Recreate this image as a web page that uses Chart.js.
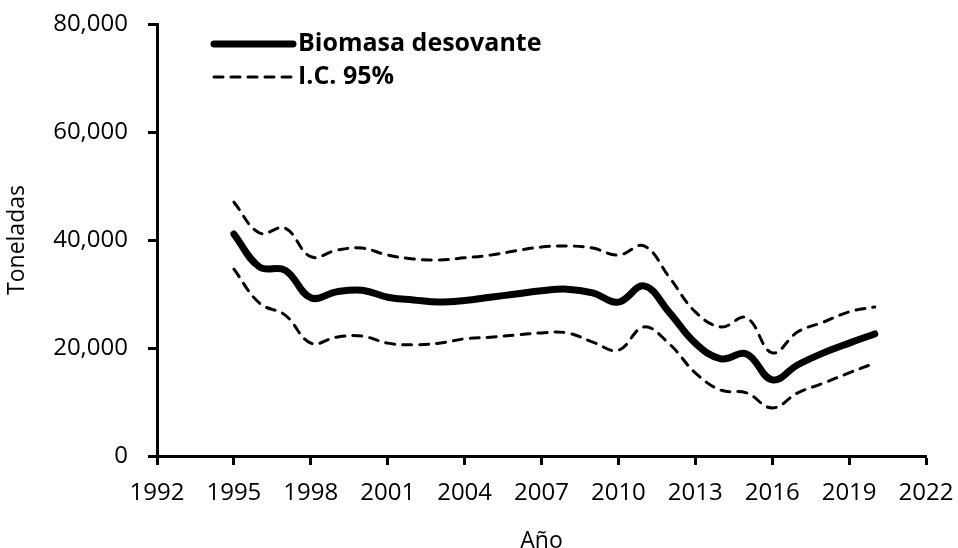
<!DOCTYPE html>
<html>
<head>
<meta charset="utf-8">
<script src="https://cdn.jsdelivr.net/npm/chart.js@4/dist/chart.umd.min.js"></script>
<style>
  body { margin: 0; background: #fff; }
  #wrap { width: 958px; height: 548px; position: relative; }
</style>
</head>
<body>
<div id="wrap"><canvas id="biomasaChart"></canvas></div>
<script>
// Biomasa desovante estimada y su intervalo de confianza (toneladas)
const anios = [1995, 1996, 1997, 1998, 1999, 2000, 2001, 2002, 2003, 2004, 2005, 2006, 2007,
               2008, 2009, 2010, 2011, 2012, 2013, 2014, 2015, 2016, 2017, 2018, 2019, 2020];
const biomasa = [41100, 35000, 34400, 29300, 30400, 30700, 29400, 28900, 28500, 28800, 29400, 30000, 30600,
                 30900, 30200, 28500, 31500, 26500, 20900, 18000, 18900, 14100, 16900, 19100, 20900, 22600];
const icSuperior = [47000, 41300, 42200, 36900, 38100, 38500, 37200, 36500, 36300, 36700, 37200, 38000, 38700,
                    38900, 38500, 37200, 38900, 33000, 26700, 23900, 25600, 19100, 23000, 24800, 26700, 27600];
const icInferior = [34600, 28300, 26100, 20900, 22000, 22200, 20900, 20600, 20900, 21700, 22000, 22400, 22800,
                    22800, 21100, 19600, 23900, 20700, 15400, 12200, 11700, 8900, 11700, 13500, 15400, 17200];
const xTicks = [1992, 1995, 1998, 2001, 2004, 2007, 2010, 2013, 2016, 2019, 2022];
const yTicks = [0, 20000, 40000, 60000, 80000];

const FONT = "'Open Sans', sans-serif";

function puntos(valores) {
    return anios.map(function (a, i) { return { x: a, y: valores[i] }; });
}

// leyenda dentro del area del grafico, arriba a la izquierda
const leyenda = {
    id: 'leyendaInterna',
    afterDraw: function (chart) {
        const ctx = chart.ctx;
        const area = chart.chartArea;
        const items = chart.data.datasets.filter(function (d) { return d.enLeyenda; });
        ctx.save();
        items.forEach(function (d, i) {
            const y = area.top + 20 + i * 33;
            const x0 = area.left + 57;
            const x1 = x0 + 79;
            ctx.beginPath();
            ctx.lineWidth = d.borderWidth;
            ctx.strokeStyle = d.borderColor;
            ctx.lineCap = d.borderCapStyle || 'butt';
            ctx.setLineDash(d.borderDash || []);
            ctx.moveTo(x0, y);
            ctx.lineTo(x1, y);
            ctx.stroke();
            ctx.setLineDash([]);
            ctx.fillStyle = '#000';
            ctx.font = 'bold 25px ' + FONT;
            ctx.textBaseline = 'middle';
            ctx.textAlign = 'left';
            ctx.fillText(d.label, x1 + 5, y);
        });
        ctx.restore();
    }
};

const ctx = document.getElementById('biomasaChart').getContext('2d');
const chart = new Chart(ctx, {
    type: 'line',
    data: {
        datasets: [{
            label: 'Biomasa desovante',
            data: puntos(biomasa),
            borderColor: '#000',
            borderWidth: 7,
            borderCapStyle: 'round',
            pointRadius: 0,
            tension: 0.4,
            enLeyenda: true
        }, {
            label: 'I.C. 95%',
            data: puntos(icSuperior),
            borderColor: '#000',
            borderWidth: 3,
            borderDash: [9, 8],
            borderCapStyle: 'round',
            pointRadius: 0,
            tension: 0.4,
            enLeyenda: true
        }, {
            label: 'I.C. 95% inferior',
            data: puntos(icInferior),
            borderColor: '#000',
            borderWidth: 3,
            borderDash: [9, 8],
            borderCapStyle: 'round',
            pointRadius: 0,
            tension: 0.4
        }]
    },
    options: {
        responsive: true,
        maintainAspectRatio: false,
        animation: false,
        layout: { padding: { top: 24, right: 32, left: 0, bottom: 0 } },
        plugins: {
            legend: { display: false },
            tooltip: { enabled: false }
        },
        scales: {
            x: {
                type: 'linear',
                min: 1992,
                max: 2022,
                afterBuildTicks: function (scale) {
                    scale.ticks = xTicks.map(function (v) { return { value: v }; });
                },
                afterFit: function (scale) {
                    scale.height = 92;
                    scale.paddingLeft = 0;
                    scale.paddingRight = 0;
                },
                ticks: {
                    color: '#000',
                    font: { family: FONT, size: 24 },
                    padding: 14,
                    maxRotation: 0,
                    autoSkip: false,
                    callback: function (v) { return String(v); }
                },
                grid: {
                    drawOnChartArea: false,
                    tickLength: 9,
                    tickWidth: 3,
                    tickColor: '#000'
                },
                border: { color: '#000', width: 3 },
                title: {
                    display: true,
                    text: 'Año',
                    color: '#000',
                    font: { family: FONT, size: 23 },
                    padding: { bottom: -7, top: 0 }
                }
            },
            y: {
                min: 0,
                max: 80000,
                afterBuildTicks: function (scale) {
                    scale.ticks = yTicks.map(function (v) { return { value: v }; });
                },
                afterFit: function (scale) {
                    scale.width = 157;
                    scale.paddingTop = 0;
                    scale.paddingBottom = 0;
                },
                ticks: {
                    color: '#000',
                    font: { family: FONT, size: 24 },
                    padding: 20,
                    callback: function (v) { return v.toLocaleString('en-US'); }
                },
                grid: {
                    drawOnChartArea: false,
                    tickLength: 9,
                    tickWidth: 3,
                    tickColor: '#000'
                },
                border: { color: '#000', width: 3 },
                title: {
                    display: true,
                    text: 'Toneladas',
                    color: '#000',
                    font: { family: FONT, size: 23 },
                    padding: { top: 4, bottom: 0 }
                }
            }
        }
    },
    plugins: [leyenda]
});
</script>
</body>
</html>
